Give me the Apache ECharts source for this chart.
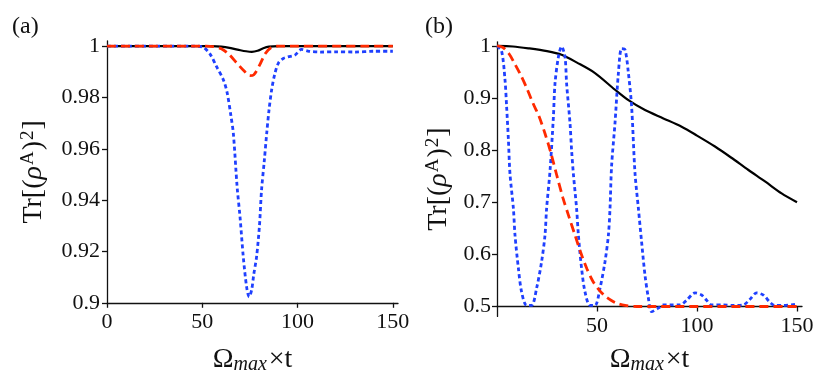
<!DOCTYPE html>
<html>
<head>
<meta charset="utf-8">
<script src="https://cdn.jsdelivr.net/npm/echarts@6/dist/echarts.min.js"></script>
<style>
  html, body { margin: 0; padding: 0; background: #fff; }
  #chart { width: 830px; height: 392px; }
</style>
</head>
<body>
<div id="chart"></div>
<script>
// panel (a)
var tBlackA = [0, 55, 60, 65, 70, 73, 76, 79, 82, 85, 90, 150];
var blackA = [1, 1, 0.9998, 0.9992, 0.9984, 0.998, 0.9978, 0.9982, 0.9992, 0.9998, 1, 1];

var tRedA = [0, 52, 56, 60, 64, 68, 72, 75, 77, 80, 83, 86, 90, 150];
var redA = [1, 1, 0.9998, 0.999, 0.9968, 0.9935, 0.9903, 0.9885, 0.9888, 0.9925, 0.997, 0.9994, 1, 1];

var tBlueA = [0, 45, 50, 54, 57.5, 61, 63, 65, 66.3, 68.3, 69.8, 71.5, 73.3, 74.6, 75.9, 77, 78.5, 80, 81.1,
  82.5, 83.8, 85, 86.4, 88, 90, 92.5, 95, 98.6, 102, 106, 112, 120, 130, 140, 150];
var blueA = [1, 1, 0.9997, 0.997, 0.992, 0.987, 0.982, 0.973, 0.966, 0.945, 0.9335, 0.918, 0.906, 0.9023, 0.905,
  0.911, 0.918, 0.93, 0.944, 0.955, 0.966, 0.975, 0.983, 0.989, 0.9935, 0.9952, 0.9958, 0.9965, 0.9987, 0.998,
  0.9977, 0.9978, 0.9977, 0.998, 0.998];

// panel (b)
var tBlackB = [0, 8, 15.7, 25, 32.3, 40, 49, 59, 65.7, 74, 83.2, 92.3, 100, 109, 117, 125.7, 134, 142.3, 150];
var blackB = [1, 0.999, 0.9955, 0.99, 0.983, 0.968, 0.948, 0.916, 0.896, 0.877, 0.861, 0.845, 0.828, 0.807,
  0.786, 0.762, 0.74, 0.717, 0.7];

var tRedB = [0, 3, 6, 9, 12, 15, 18, 21, 24, 27, 30, 33, 36, 39, 42, 45, 48, 51, 54, 57, 60, 64, 70, 150];
var redB = [1, 0.997, 0.985, 0.965, 0.943, 0.918, 0.89, 0.865, 0.832, 0.794, 0.75, 0.708, 0.672, 0.637, 0.602,
  0.572, 0.548, 0.532, 0.52, 0.512, 0.506, 0.502, 0.5, 0.5];

var tBlueB = [0, 2.3, 4, 4.8, 5.7, 6.5, 8.2, 9, 10.7, 12.3, 14.8, 17.3, 19.8, 22.3, 24, 24.8, 26.5, 28.2, 29,
  30.7, 32.3, 34, 34.8, 36.5, 37.3, 38.2, 39.8, 40.7, 42.3, 44, 46.5, 49, 51.5, 54, 55.7, 56.5, 57.3, 59, 60.7,
  62.3, 64, 65.7, 67.3, 69, 70.7, 72.3, 74, 75.7, 77.3, 80.7, 83.2, 86.5, 91.5, 94.8, 99, 102.3, 104.8, 107.3,
  113.2, 118.2, 123.2, 126.5, 129.8, 133.2, 136.5, 139, 143.2, 149];
var blueB = [1, 0.99, 0.935, 0.884, 0.82, 0.754, 0.688, 0.637, 0.573, 0.528, 0.502, 0.502, 0.535, 0.586, 0.637,
  0.688, 0.76, 0.864, 0.928, 0.979, 0.999, 0.979, 0.928, 0.852, 0.8, 0.754, 0.688, 0.637, 0.573, 0.528, 0.502,
  0.502, 0.535, 0.586, 0.637, 0.688, 0.77, 0.852, 0.948, 0.995, 0.993, 0.948, 0.884, 0.756, 0.688, 0.624, 0.56,
  0.516, 0.49, 0.497, 0.503, 0.503, 0.503, 0.512, 0.526, 0.522, 0.512, 0.503, 0.503, 0.502, 0.503, 0.514,
  0.526, 0.522, 0.508, 0.502, 0.502, 0.504];

var xTicksA = [0, 50, 100, 150];
var yTicksA = [0.9, 0.92, 0.94, 0.96, 0.98, 1];
var xTicksB = [50, 100, 150];
var yTicksB = [0.5, 0.6, 0.7, 0.8, 0.9, 1];

function pairs(t, v) {
  return t.map(function (x, i) { return [x, v[i]]; });
}

var FONT = 'Liberation Serif';
var RED = '#ff2a00';
var BLUE = '#1f40ff';

// right panel: y range runs a bit under 0.5, x axis sits at 0.5
var gridB = { left: 497, top: 41.8, width: 305, height: 274.6 };
var yMinB = 0.481, yMaxB = 1.008;
var offB = -(0.5 - yMinB) / (yMaxB - yMinB) * gridB.height;

var axisLine = { lineStyle: { color: '#111', width: 1.3 } };
var tick = function (vals) {
  return { show: true, length: 5, customValues: vals, lineStyle: { color: '#111', width: 1.3 } };
};
var lbl = function (vals, margin) {
  return { customValues: vals, margin: margin, fontFamily: FONT, fontSize: 22, color: '#111',
    formatter: function (v) { return String(v); } };
};

var xName = '{a|Ω}{b|max}{a|×t}';
var xRich = {
  a: { fontFamily: FONT, fontSize: 28, color: '#111' },
  b: { fontFamily: FONT, fontSize: 20, fontStyle: 'italic', color: '#111', verticalAlign: 'bottom', padding: [10, 2, 0, 0] }
};
var yName = '{a|Tr[(}{i|ρ}{s|A}{a|)}{s|2}{a|]}';
var yRich = {
  a: { fontFamily: FONT, fontSize: 28, color: '#111' },
  i: { fontFamily: FONT, fontSize: 28, fontStyle: 'italic', color: '#111' },
  s: { fontFamily: FONT, fontSize: 19, color: '#111', verticalAlign: 'top', padding: [0, 1, 10, 1] }
};

var chart = echarts.init(document.getElementById('chart'), null, { renderer: 'canvas' });
chart.setOption({
  animation: false,
  backgroundColor: '#fff',
  graphic: [
    { type: 'text', left: 12, top: 15, style: { text: '(a)', font: '24px "Liberation Serif"', fill: '#111' } },
    { type: 'text', left: 425, top: 15, style: { text: '(b)', font: '24px "Liberation Serif"', fill: '#111' } }
  ],
  grid: [
    { left: 107, top: 41, width: 291, height: 261.8 },
    gridB
  ],
  xAxis: [
    {
      gridIndex: 0, type: 'value', min: 0, max: 152.7,
      axisLine: axisLine, axisTick: tick(xTicksA), axisLabel: lbl(xTicksA, 8), splitLine: { show: false },
      name: xName, nameLocation: 'middle', nameGap: 42, nameTextStyle: { rich: xRich }
    },
    {
      gridIndex: 1, type: 'value', min: 0, max: 152.5, offset: offB,
      axisLine: axisLine, axisTick: tick(xTicksB), axisLabel: lbl(xTicksB, 9), splitLine: { show: false },
      name: xName, nameLocation: 'middle', nameGap: 38, nameTextStyle: { rich: xRich }
    }
  ],
  yAxis: [
    {
      gridIndex: 0, type: 'value', min: 0.9, max: 1.002,
      axisLine: axisLine, axisTick: tick(yTicksA), axisLabel: lbl(yTicksA, 7), splitLine: { show: false },
      name: yName, nameLocation: 'middle', nameRotate: 90, nameGap: 59, nameTextStyle: { rich: yRich }
    },
    {
      gridIndex: 1, type: 'value', min: yMinB, max: yMaxB,
      axisLine: axisLine, axisTick: tick(yTicksB), axisLabel: lbl(yTicksB, 6), splitLine: { show: false },
      name: yName, nameLocation: 'middle', nameRotate: 90, nameGap: 44, nameTextStyle: { rich: yRich }
    }
  ],
  series: [
    { type: 'line', xAxisIndex: 0, yAxisIndex: 0, data: pairs(tBlueA, blueA), showSymbol: false, smooth: 0.3,
      lineStyle: { color: BLUE, width: 2.8, type: [4, 3] }, z: 3 },
    { type: 'line', xAxisIndex: 0, yAxisIndex: 0, data: pairs(tRedA, redA), showSymbol: false, smooth: 0.3,
      lineStyle: { color: RED, width: 2.8, type: [9, 5] }, z: 4 },
    { type: 'line', xAxisIndex: 0, yAxisIndex: 0, data: pairs(tBlackA, blackA), showSymbol: false, smooth: 0.3,
      lineStyle: { color: '#000', width: 2.2 }, z: 2 },
    { type: 'line', xAxisIndex: 1, yAxisIndex: 1, data: pairs(tBlackB, blackB), showSymbol: false, smooth: 0.3,
      lineStyle: { color: '#000', width: 2.2 }, z: 2 },
    { type: 'line', xAxisIndex: 1, yAxisIndex: 1, data: pairs(tRedB, redB), showSymbol: false, smooth: 0.3,
      lineStyle: { color: RED, width: 2.8, type: [9, 5] }, z: 4 },
    { type: 'line', xAxisIndex: 1, yAxisIndex: 1, data: pairs(tBlueB, blueB), showSymbol: false, smooth: 0.3,
      lineStyle: { color: BLUE, width: 2.8, type: [4, 3] }, z: 3 }
  ]
});
</script>
</body>
</html>
